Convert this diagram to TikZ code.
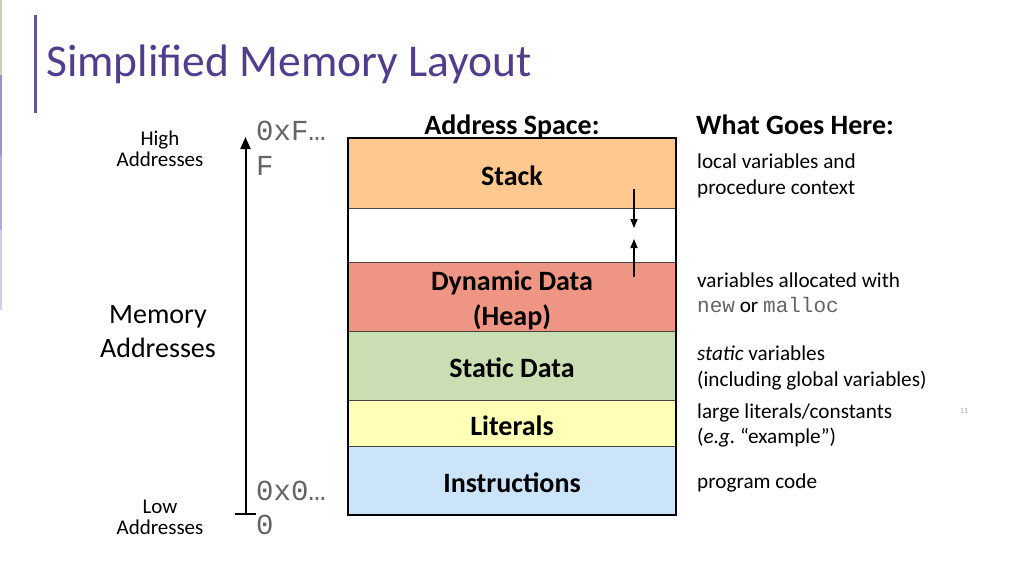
\documentclass[tikz,border=0pt]{standalone}
\usepackage{fontspec}
\setmainfont{Carlito}
\setmonofont{Liberation Mono}
\usetikzlibrary{arrows.meta}
\frenchspacing
\definecolor{titlepurple}{RGB}{80,62,140}
\definecolor{barpurple}{RGB}{100,85,150}
\definecolor{stackc}{RGB}{255,200,143}
\definecolor{heapc}{RGB}{238,149,131}
\definecolor{staticc}{RGB}{201,222,178}
\definecolor{litc}{RGB}{255,255,181}
\definecolor{instrc}{RGB}{204,228,249}
\definecolor{monogray}{RGB}{100,100,100}
\definecolor{divgray}{RGB}{70,70,70}
\tikzset{
  seg/.style={draw=divgray, line width=0.8pt, minimum width=328pt, inner sep=0pt, outer sep=0pt},
  blbl/.style={inner sep=0pt, anchor=base, font=\fontsize{28}{32}\selectfont\bfseries},
  hdr/.style={inner sep=0pt, font=\fontsize{28}{32}\selectfont\bfseries},
  desc/.style={inner sep=0pt, anchor=base west, font=\fontsize{21.2}{25}\selectfont},
  smalllbl/.style={inner sep=0pt, anchor=base, font=\fontsize{21}{25}\selectfont},
  biglbl/.style={inner sep=0pt, anchor=base, font=\fontsize{28}{32}\selectfont},
  addr/.style={inner sep=0pt, anchor=base west, text=monogray, font=\fontsize{29}{32}\selectfont\ttfamily},
  growarrow/.style={line width=1.5pt, -{Triangle[length=9pt,width=7pt]}},
}
\newcommand{\mymono}[1]{{\color{monogray}\fontsize{21}{25}\selectfont\ttfamily #1}}
\begin{document}
\begin{tikzpicture}[x=1pt,y=-1pt]
\useasboundingbox[fill=white] (0,0) rectangle (1024,576);
% left edge strip
\fill[color={rgb,255:red,205;green,205;blue,185}] (0,0) rectangle (1.5,75);
\fill[color={rgb,255:red,160;green,145;blue,190}] (0,75) rectangle (1.5,155);
\fill[color={rgb,255:red,180;green,170;blue,215}] (0,155) rectangle (1.5,230);
\fill[color={rgb,255:red,210;green,205;blue,232}] (0,230) rectangle (1.5,310);
% title
\fill[barpurple] (34,15) rectangle (36.5,113);
\node[inner sep=0pt, anchor=base west, text=titlepurple, font=\fontsize{45.5}{50}\selectfont] (title) at (46,76) {Simplified Memory Layout};
% headers
\node[hdr, anchor=base] (ashdr) at (512,134) {Address Space:};
\node[hdr, anchor=base west] (wghdr) at (696,134) {What Goes Here:};
% blocks
\node[seg, fill=stackc, minimum height=70pt] (stack) at (512,173) {};
\node[seg, fill=white, minimum height=54pt] (gap) at (512,235) {};
\node[seg, fill=heapc, minimum height=69pt] (heap) at (512,296.5) {};
\node[seg, fill=staticc, minimum height=69pt] (static) at (512,365.5) {};
\node[seg, fill=litc, minimum height=46pt] (lit) at (512,423) {};
\node[seg, fill=instrc, minimum height=69pt] (instr) at (512,480.5) {};
\draw[line width=2pt] (stack.north west) rectangle (instr.south east);
% block labels
\node[blbl] (stacklbl) at (512,185) {Stack};
\node[blbl] (heaplbl1) at (512,290) {Dynamic Data};
\node[blbl] (heaplbl2) at (512,325) {(Heap)};
\node[blbl] (staticlbl) at (512,377) {Static Data};
\node[blbl] (litlbl) at (512,435) {Literals};
\node[blbl] (instrlbl) at (512,492) {Instructions};
% growth arrows
\coordinate (sd0) at (634,189);
\coordinate (sd1) at (634,228);
\coordinate (hu0) at (634,277);
\coordinate (hu1) at (634,239);
\draw[growarrow] (sd0) -- (sd1);
\draw[growarrow] (hu0) -- (hu1);
% address axis
\coordinate (axbot) at (245.5,514);
\coordinate (axtop) at (245.5,137);
\coordinate (tickl) at (235,514);
\coordinate (tickr) at (256,514);
\draw[line width=2pt, -{Triangle[length=12pt,width=10pt]}] (axbot) -- (axtop);
\draw[line width=2pt] (tickl) -- (tickr);
\node[addr] (hi1) at (256,140) {0xF…};
\node[addr] (hi2) at (256,175) {F};
\node[addr] (lo1) at (256,500) {0x0…};
\node[addr] (lo2) at (256,534) {0};
% left labels
\node[smalllbl] (high1) at (160,145) {High};
\node[smalllbl] (high2) at (160,166) {Addresses};
\node[biglbl] (mem1) at (158,323) {Memory};
\node[biglbl] (mem2) at (158,357) {Addresses};
\node[smalllbl] (low1) at (160,513) {Low};
\node[smalllbl] (low2) at (160,534) {Addresses};
% descriptions
\node[desc] (d1a) at (697,168) {local variables and};
\node[desc] (d1b) at (697,194) {procedure context};
\node[desc] (d2a) at (697,287) {variables allocated with};
\node[desc] (d2b) at (697,312) {\mymono{new} or \mymono{malloc}};
\node[desc] (d3a) at (697,360) {\textit{static} variables};
\node[desc] (d3b) at (697,386) {(including global variables)};
\node[desc] (d4a) at (697,418) {large literals/constants};
\node[desc] (d4b) at (697,443) {(\textit{e.g.} “example”)};
\node[desc] (d5) at (697,488) {program code};
% page number
\node[inner sep=0pt, anchor=base, text=gray!70, font=\fontsize{8}{9}\selectfont] (pnum) at (964,413) {11};
\end{tikzpicture}
\end{document}
